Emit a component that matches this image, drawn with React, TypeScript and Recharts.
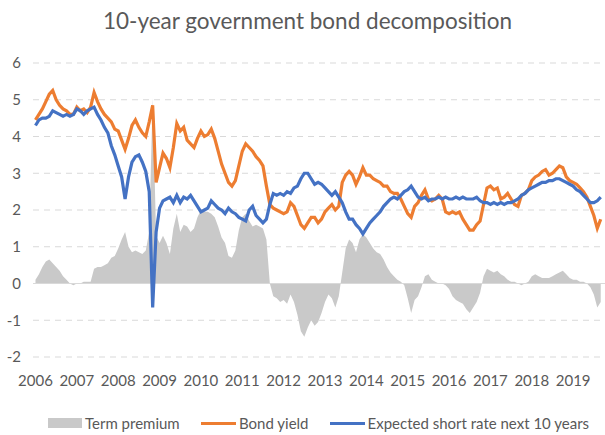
import React from "react";
import {
  ComposedChart,
  Area,
  Line,
  XAxis,
  YAxis,
  CartesianGrid,
  Legend,
  ReferenceLine,
} from "recharts";

// monthly observations, Jan 2006 .. Sep 2019
const START_YEAR = 2006;
const yearTicks = [2006, 2007, 2008, 2009, 2010, 2011, 2012, 2013, 2014, 2015, 2016, 2017, 2018, 2019];
const valueTicks = [-2, -1, 0, 1, 2, 3, 4, 5, 6];
const seriesNames = ["Term premium", "Bond yield", "Expected short rate next 10 years"];

const bondYield = [
  4.45, 4.6, 4.75, 4.95, 5.15, 5.25, 5.0, 4.85, 4.75, 4.7, 4.6, 4.6,
  4.8, 4.7, 4.75, 4.65, 4.8, 5.2, 4.95, 4.75, 4.6, 4.5, 4.4, 4.2,
  4.15, 3.9, 3.65, 3.95, 4.3, 4.45, 4.25, 4.1, 4.0, 4.4, 4.85, 2.75,
  3.15, 3.55, 3.4, 3.15, 3.7, 4.35, 4.15, 4.25, 3.9, 3.8, 3.7, 3.95,
  4.15, 4.0, 4.05, 4.2, 3.95, 3.6, 3.25, 3.0, 2.75, 2.65, 2.8, 3.2,
  3.6, 3.8, 3.7, 3.6, 3.45, 3.35, 3.2, 2.65, 2.15, 2.05, 2.0, 1.95,
  1.9, 1.95, 2.2, 2.1, 1.85, 1.6, 1.5, 1.65, 1.8, 1.8, 1.65, 1.75,
  1.95, 2.05, 2.15, 2.0, 2.1, 2.75, 2.95, 3.05, 2.95, 2.7, 2.9, 3.15,
  2.95, 2.95, 2.85, 2.8, 2.75, 2.65, 2.65, 2.5, 2.45, 2.45, 2.3, 2.1,
  1.9, 1.8, 2.1, 2.2, 2.4, 2.55, 2.3, 2.25, 2.3, 2.4, 2.3, 1.95,
  1.9, 1.95, 1.9, 1.95, 1.75, 1.6, 1.45, 1.45, 1.6, 1.7, 2.15, 2.6,
  2.65, 2.55, 2.6, 2.3, 2.35, 2.45, 2.3, 2.15, 2.1, 2.4, 2.45, 2.55,
  2.8, 2.9, 2.95, 3.05, 3.1, 2.95, 3.0, 3.1, 3.2, 3.15, 2.9, 2.8,
  2.75, 2.7, 2.6, 2.5, 2.35, 2.1, 1.85, 1.5, 1.75,
];

const expectedShortRate = [
  4.3, 4.45, 4.5, 4.5, 4.55, 4.7, 4.65, 4.6, 4.55, 4.6, 4.55, 4.6,
  4.75, 4.7, 4.6, 4.7, 4.75, 4.8, 4.6, 4.45, 4.25, 4.1, 3.75, 3.5,
  3.2, 2.9, 2.3, 2.9, 3.3, 3.45, 3.5, 3.3, 3.05, 2.5, -0.65, 1.4,
  2.05, 2.25, 2.3, 2.35, 2.2, 2.4, 2.2, 2.35, 2.3, 2.4, 2.25, 2.1,
  1.95, 2.0, 2.05, 2.25, 2.15, 2.05, 2.0, 1.9, 2.05, 1.95, 1.9, 1.8,
  1.75, 1.7, 2.0, 2.1, 1.85, 1.75, 1.65, 1.75, 2.15, 2.45, 2.4, 2.45,
  2.4, 2.5, 2.45, 2.6, 2.65, 2.85, 3.0, 3.0, 2.85, 2.7, 2.75, 2.7,
  2.6, 2.5, 2.4, 2.5, 2.35, 2.2, 1.95, 1.75, 1.75, 1.6, 1.5, 1.35,
  1.5, 1.65, 1.75, 1.85, 1.95, 2.1, 2.2, 2.3, 2.35, 2.3, 2.4, 2.5,
  2.55, 2.65, 2.5, 2.35, 2.3, 2.35, 2.25, 2.3, 2.3, 2.35, 2.3, 2.35,
  2.3, 2.3, 2.35, 2.3, 2.35, 2.3, 2.3, 2.3, 2.35, 2.25, 2.2, 2.2,
  2.15, 2.2, 2.15, 2.2, 2.15, 2.2, 2.2, 2.25, 2.3, 2.4, 2.45, 2.55,
  2.6, 2.65, 2.7, 2.75, 2.75, 2.8, 2.8, 2.85, 2.85, 2.8, 2.75, 2.7,
  2.65, 2.55, 2.5, 2.4, 2.3, 2.2, 2.2, 2.25, 2.35,
];

const termPremium = [
  0.1, 0.25, 0.45, 0.6, 0.65, 0.55, 0.45, 0.35, 0.2, 0.1, 0.0, -0.05,
  0.0, 0.0, 0.05, 0.05, 0.05, 0.4, 0.45, 0.45, 0.5, 0.55, 0.7, 0.75,
  0.95, 1.2, 1.4, 1.0, 0.85, 0.9, 0.85, 0.8, 0.9, 1.4, 5.05, 1.3,
  1.1, 1.3, 1.1, 0.8, 1.5, 1.9, 1.4, 1.6, 1.55, 1.4, 1.5, 1.8,
  2.0, 1.95, 1.95, 1.9, 1.8, 1.55, 1.25, 1.1, 0.75, 0.7, 0.9, 1.45,
  1.8, 1.9, 1.7, 1.55, 1.6, 1.55, 1.5, 1.2, 0.0, -0.35, -0.4, -0.5,
  -0.45, -0.55, -0.3, -0.5, -0.85, -1.3, -1.45, -1.2, -1.0, -1.15, -1.05, -0.8,
  -0.5, -0.3, -0.4, -0.65, -0.35, 0.3, 0.95, 1.2, 1.1, 0.85, 1.2, 1.35,
  1.25, 1.1, 0.95, 0.85, 0.8, 0.65, 0.45, 0.3, 0.2, 0.1, 0.05, -0.05,
  -0.4, -0.8, -0.45, -0.35, -0.1, 0.2, 0.25, 0.1, 0.05, 0.0, 0.0, -0.05,
  -0.15, -0.35, -0.45, -0.5, -0.55, -0.7, -0.8, -0.65, -0.5, -0.25, 0.2, 0.4,
  0.35, 0.3, 0.35, 0.25, 0.2, 0.1, 0.05, 0.05, 0.0, -0.05, 0.0, 0.05,
  0.2, 0.25, 0.2, 0.15, 0.15, 0.15, 0.2, 0.25, 0.3, 0.35, 0.25, 0.15,
  0.1, 0.1, 0.05, 0.05, 0.0, -0.1, -0.3, -0.65, -0.5,
];

const data = bondYield.map((v, i) => ({
  t: START_YEAR + i / 12,
  bondYield: v,
  expected: expectedShortRate[i],
  termPremium: termPremium[i],
}));

const FONT = "Lato, 'Open Sans', sans-serif";
const TEXT = "#595959";
// legend slot widths so the items sit where the original puts them
const legendSlots = [132, 103, 0];

function LegendContent({ payload }: any) {
  const items = [...(payload || [])].sort(
    (a: any, b: any) => seriesNames.indexOf(a.value) - seriesNames.indexOf(b.value)
  );
  return (
    <div
      style={{
        height: 24,
        display: "flex",
        alignItems: "center",
        paddingLeft: 48,
        fontFamily: FONT,
        fontSize: 15,
        color: TEXT,
        gap: 21,
      }}
    >
      {items.map((p: any, i: number) => (
        <span
          key={p.value}
          style={{ display: "inline-flex", alignItems: "center", minWidth: legendSlots[i] || undefined }}
        >
          {p.type === "rect" ? (
            <span style={{ width: 34, height: 10, background: p.color, marginRight: 3 }} />
          ) : (
            <span style={{ width: 35, height: 3, background: p.color, marginRight: 3 }} />
          )}
          {p.value}
        </span>
      ))}
    </div>
  );
}

export default function App() {
  return (
    <div style={{ position: "relative", width: 605, height: 435, background: "#fff" }}>
      <style>{"body{margin:0}"}</style>
      <div
        style={{
          position: "absolute",
          top: 7,
          left: 5,
          width: 605,
          textAlign: "center",
          fontFamily: FONT,
          fontSize: 22.5,
          color: TEXT,
        }}
      >
        10-year government bond decomposition
      </div>
      <ComposedChart
        width={605}
        height={435}
        data={data}
        margin={{ top: 63, right: 0, bottom: 0, left: 0 }}
      >
        <CartesianGrid vertical={false} stroke="#d9d9d9" strokeDasharray="6 5" />
        <XAxis
          dataKey="t"
          type="number"
          domain={[2005.94, 2019.77]}
          ticks={yearTicks}
          interval={0}
          tickFormatter={(v) => String(Math.round(v))}
          axisLine={false}
          tickLine={false}
          tickMargin={12}
          height={54}
          tick={{ fontSize: 15, fill: TEXT, fontFamily: FONT }}
        />
        <YAxis
          type="number"
          domain={[-2, 6]}
          ticks={valueTicks}
          interval={0}
          axisLine={false}
          tickLine={false}
          tickMargin={6}
          width={33}
          tick={{ fontSize: 15, fill: TEXT, fontFamily: FONT }}
        />
        <ReferenceLine y={0} stroke="#d9d9d9" />
        <Area
          dataKey="termPremium"
          name="Term premium"
          type="linear"
          baseValue={0}
          stroke="none"
          fill="#c9c9c9"
          fillOpacity={1}
          legendType="rect"
          isAnimationActive={false}
        />
        <Line
          dataKey="bondYield"
          name="Bond yield"
          type="linear"
          stroke="#ED7D31"
          strokeWidth={3.2}
          dot={false}
          legendType="plainline"
          isAnimationActive={false}
        />
        <Line
          dataKey="expected"
          name="Expected short rate next 10 years"
          type="linear"
          stroke="#4472C4"
          strokeWidth={3.2}
          dot={false}
          legendType="plainline"
          isAnimationActive={false}
        />
        <Legend verticalAlign="bottom" content={<LegendContent />} />
      </ComposedChart>
    </div>
  );
}
